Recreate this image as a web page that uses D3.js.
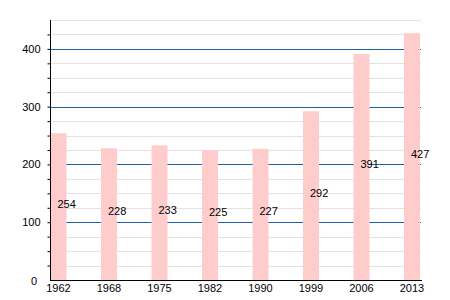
<!DOCTYPE html>
<html>
<head>
<meta charset="utf-8">
<script src="https://cdn.jsdelivr.net/npm/d3@7"></script>
<style>
  body { margin: 0; background: #fff; }
  text { font-family: "Liberation Sans", Arial, sans-serif; font-size: 11px; fill: #000; }
</style>
</head>
<body>
<svg width="450" height="300"></svg>
<script>
// data
var years = ["1962", "1968", "1975", "1982", "1990", "1999", "2006", "2013"];
var population = [254, 228, 233, 225, 227, 292, 391, 427];
var majorTicks = [0, 100, 200, 300, 400];
var minorTicks = d3.range(25, 451, 25);

var plotLeft = 50, plotRight = 421, plotTop = 20, plotBottom = 280;
var barWidth = 16;

var svg = d3.select('svg');

var y = d3.scaleLinear()
    .domain([0, 450])
    .range([plotBottom, plotTop]);

// bars start at each point, last one ends at the right edge
var x = d3.scalePoint()
    .domain(years)
    .range([plotLeft + 0.5, plotRight - barWidth - 1]);

// minor grid
svg.append('g')
    .selectAll('line')
    .data(minorTicks.filter(function (d) { return d % 100 != 0; }))
    .enter()
    .append('line')
    .attr('x1', plotLeft).attr('x2', plotRight)
    .attr('y1', function (d) { return Math.round(y(d)) + 0.5; })
    .attr('y2', function (d) { return Math.round(y(d)) + 0.5; })
    .attr('stroke', '#e3e3e3')
    .attr('stroke-width', 1);

// major grid
svg.append('g')
    .selectAll('line')
    .data(majorTicks.slice(1))
    .enter()
    .append('line')
    .attr('x1', plotLeft).attr('x2', plotRight)
    .attr('y1', function (d) { return Math.round(y(d)) + 0.5; })
    .attr('y2', function (d) { return Math.round(y(d)) + 0.5; })
    .attr('stroke', '#1f5fa6')
    .attr('stroke-width', 1);

// bars
svg.append('g')
    .selectAll('rect')
    .data(population)
    .enter()
    .append('rect')
    .attr('x', function (d, i) { return x(years[i]); })
    .attr('y', function (d) { return y(d); })
    .attr('width', barWidth)
    .attr('height', function (d) { return plotBottom - y(d); })
    .attr('fill', '#ffcccc');

// value labels at half height
svg.append('g')
    .selectAll('text')
    .data(population)
    .enter()
    .append('text')
    .attr('x', function (d, i) { return x(years[i]) + barWidth / 2 - 1; })
    .attr('y', function (d) { return (y(d) + plotBottom) / 2 + 1; })
    .text(function (d) { return d; });

// y axis
var yAxis = svg.append('g')
    .attr('transform', 'translate(' + (plotLeft + 0.5) + ',0)')
    .call(d3.axisLeft(y).tickValues(minorTicks.concat([0])).tickSize(3).tickPadding(7)
        .tickFormat(function (d) { return d % 100 == 0 && d <= 400 ? d : ''; }));
yAxis.select('.domain').attr('d', 'M0,' + plotTop + 'V' + plotBottom);
yAxis.selectAll('.tick line').filter(function (d) { return d == 0 || d == 450; }).remove();
yAxis.selectAll('text').style('font-size', '11px').style('font-family', '"Liberation Sans", Arial, sans-serif');
yAxis.selectAll('.tick').filter(function (d) { return d == 0; })
    .select('text').attr('x', -13.5).attr('dy', '0.45em');

// x axis
svg.append('line')
    .attr('x1', plotLeft).attr('x2', plotRight + 1)
    .attr('y1', plotBottom + 0.5).attr('y2', plotBottom + 0.5)
    .attr('stroke', '#000');

svg.append('g')
    .selectAll('text')
    .data(years)
    .enter()
    .append('text')
    .attr('x', function (d) { return x(d) + barWidth / 2; })
    .attr('y', plotBottom + 12)
    .attr('text-anchor', 'middle')
    .text(function (d) { return d; });
</script>
</body>
</html>
